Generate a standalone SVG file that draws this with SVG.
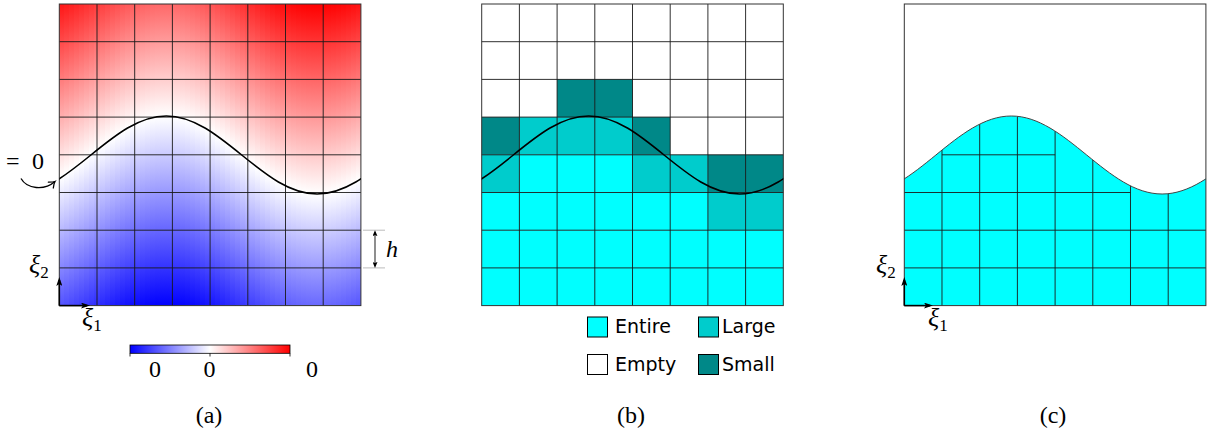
<svg xmlns="http://www.w3.org/2000/svg" width="1208" height="434" viewBox="0 0 1208 434">
<style>
.m{font-family:"Liberation Serif","DejaVu Serif",serif;font-size:24px;fill:#000}
.it{font-style:italic}
.xi{font-size:26px}
.sub{font-size:17px;font-style:normal}
.lg{font-family:"DejaVu Sans","Liberation Sans",sans-serif;font-size:19px;fill:#000}
.grid{fill:none;stroke:#1a1a1a;stroke-width:0.9}
.border{fill:none;stroke:#333;stroke-width:1}
.curve{fill:none;stroke:#000;stroke-width:1.6}
.ccurve{fill:none;stroke:#444;stroke-width:1}
.st{fill:url(#phi);shape-rendering:crispEdges}
.ax{fill:none;stroke:#000;stroke-width:1.6;marker-end:url(#axtip)}
.sw{stroke:#000;stroke-width:1}
.entire{fill:#00ffff}.large{fill:#00cccc}.small{fill:#008888}.empty{fill:#fff}
</style>
<defs>
<linearGradient id="phi" gradientUnits="userSpaceOnUse" x1="0" y1="-190" x2="0" y2="190">
<stop offset="0" stop-color="#ff0000"/><stop offset="0.5" stop-color="#ffffff"/><stop offset="1" stop-color="#0000ff"/>
</linearGradient>
<linearGradient id="cbar" x1="0" y1="0" x2="1" y2="0">
<stop offset="0" stop-color="#0000ff"/><stop offset="0.5" stop-color="#ffffff"/><stop offset="1" stop-color="#ff0000"/>
</linearGradient>
<clipPath id="clipPanel"><rect x="0" y="4" width="301.6" height="301.6"/></clipPath>
<marker id="axtip" viewBox="0 0 9 6" refX="6" refY="3" markerWidth="9" markerHeight="6" markerUnits="userSpaceOnUse" orient="auto"><path d="M0,0 L9,3 L0,6 L2,3Z" fill="#000"/></marker>
<marker id="smtip" viewBox="0 0 6 5" refX="4" refY="2.5" markerWidth="6" markerHeight="5" markerUnits="userSpaceOnUse" orient="auto-start-reverse"><path d="M0,0 L6,2.5 L0,5 L1.2,2.5Z" fill="#000"/></marker>
<marker id="cvtip" viewBox="-7 -5 8 10" refX="0" refY="0" markerWidth="8" markerHeight="10" markerUnits="userSpaceOnUse" orient="auto" overflow="visible"><path d="M-5.5,-3.8 C-3,-1.6 -1,-0.3 0,0 C-1,0.3 -3,1.6 -5.5,3.8" fill="none" stroke="#000" stroke-width="1.3" stroke-linecap="round"/></marker>
<path id="sine" d="M-43.8,194 C-16.51,194 7.01,174.98 31.6,155 C56.19,135.02 79.71,116 107,116 C134.29,116 157.81,135.02 182.4,155 C206.99,174.98 230.51,194 257.8,194 C285.09,194 308.61,174.98 333.2,155"/>
</defs>

<g id="panel-a" transform="translate(59.3,0)">
<g clip-path="url(#clipPanel)">
<rect class="st" x="0" y="-173.12" width="5.3" height="301.6" transform="translate(0,177.12)"/>
<rect class="st" x="5.03" y="-169.64" width="5.3" height="301.6" transform="translate(0,173.64)"/>
<rect class="st" x="10.05" y="-165.96" width="5.3" height="301.6" transform="translate(0,169.96)"/>
<rect class="st" x="15.08" y="-162.11" width="5.3" height="301.6" transform="translate(0,166.11)"/>
<rect class="st" x="20.11" y="-158.14" width="5.3" height="301.6" transform="translate(0,162.14)"/>
<rect class="st" x="25.13" y="-154.09" width="5.3" height="301.6" transform="translate(0,158.09)"/>
<rect class="st" x="30.16" y="-150.01" width="5.3" height="301.6" transform="translate(0,154.01)"/>
<rect class="st" x="35.19" y="-145.94" width="5.3" height="301.6" transform="translate(0,149.94)"/>
<rect class="st" x="40.21" y="-141.93" width="5.3" height="301.6" transform="translate(0,145.93)"/>
<rect class="st" x="45.24" y="-138.01" width="5.3" height="301.6" transform="translate(0,142.01)"/>
<rect class="st" x="50.27" y="-134.24" width="5.3" height="301.6" transform="translate(0,138.24)"/>
<rect class="st" x="55.29" y="-130.65" width="5.3" height="301.6" transform="translate(0,134.65)"/>
<rect class="st" x="60.32" y="-127.28" width="5.3" height="301.6" transform="translate(0,131.28)"/>
<rect class="st" x="65.35" y="-124.18" width="5.3" height="301.6" transform="translate(0,128.18)"/>
<rect class="st" x="70.37" y="-121.37" width="5.3" height="301.6" transform="translate(0,125.37)"/>
<rect class="st" x="75.4" y="-118.88" width="5.3" height="301.6" transform="translate(0,122.88)"/>
<rect class="st" x="80.43" y="-116.74" width="5.3" height="301.6" transform="translate(0,120.74)"/>
<rect class="st" x="85.45" y="-114.98" width="5.3" height="301.6" transform="translate(0,118.98)"/>
<rect class="st" x="90.48" y="-113.61" width="5.3" height="301.6" transform="translate(0,117.61)"/>
<rect class="st" x="95.51" y="-112.66" width="5.3" height="301.6" transform="translate(0,116.66)"/>
<rect class="st" x="100.53" y="-112.12" width="5.3" height="301.6" transform="translate(0,116.12)"/>
<rect class="st" x="105.56" y="-112.01" width="5.3" height="301.6" transform="translate(0,116.01)"/>
<rect class="st" x="110.59" y="-112.33" width="5.3" height="301.6" transform="translate(0,116.33)"/>
<rect class="st" x="115.61" y="-113.07" width="5.3" height="301.6" transform="translate(0,117.07)"/>
<rect class="st" x="120.64" y="-114.23" width="5.3" height="301.6" transform="translate(0,118.23)"/>
<rect class="st" x="125.67" y="-115.78" width="5.3" height="301.6" transform="translate(0,119.78)"/>
<rect class="st" x="130.69" y="-117.73" width="5.3" height="301.6" transform="translate(0,121.73)"/>
<rect class="st" x="135.72" y="-120.04" width="5.3" height="301.6" transform="translate(0,124.04)"/>
<rect class="st" x="140.75" y="-122.69" width="5.3" height="301.6" transform="translate(0,126.69)"/>
<rect class="st" x="145.77" y="-125.65" width="5.3" height="301.6" transform="translate(0,129.65)"/>
<rect class="st" x="150.8" y="-128.88" width="5.3" height="301.6" transform="translate(0,132.88)"/>
<rect class="st" x="155.83" y="-132.36" width="5.3" height="301.6" transform="translate(0,136.36)"/>
<rect class="st" x="160.85" y="-136.04" width="5.3" height="301.6" transform="translate(0,140.04)"/>
<rect class="st" x="165.88" y="-139.89" width="5.3" height="301.6" transform="translate(0,143.89)"/>
<rect class="st" x="170.91" y="-143.86" width="5.3" height="301.6" transform="translate(0,147.86)"/>
<rect class="st" x="175.93" y="-147.91" width="5.3" height="301.6" transform="translate(0,151.91)"/>
<rect class="st" x="180.96" y="-151.99" width="5.3" height="301.6" transform="translate(0,155.99)"/>
<rect class="st" x="185.99" y="-156.06" width="5.3" height="301.6" transform="translate(0,160.06)"/>
<rect class="st" x="191.01" y="-160.07" width="5.3" height="301.6" transform="translate(0,164.07)"/>
<rect class="st" x="196.04" y="-163.99" width="5.3" height="301.6" transform="translate(0,167.99)"/>
<rect class="st" x="201.07" y="-167.76" width="5.3" height="301.6" transform="translate(0,171.76)"/>
<rect class="st" x="206.09" y="-171.35" width="5.3" height="301.6" transform="translate(0,175.35)"/>
<rect class="st" x="211.12" y="-174.72" width="5.3" height="301.6" transform="translate(0,178.72)"/>
<rect class="st" x="216.15" y="-177.82" width="5.3" height="301.6" transform="translate(0,181.82)"/>
<rect class="st" x="221.17" y="-180.63" width="5.3" height="301.6" transform="translate(0,184.63)"/>
<rect class="st" x="226.2" y="-183.12" width="5.3" height="301.6" transform="translate(0,187.12)"/>
<rect class="st" x="231.23" y="-185.26" width="5.3" height="301.6" transform="translate(0,189.26)"/>
<rect class="st" x="236.25" y="-187.02" width="5.3" height="301.6" transform="translate(0,191.02)"/>
<rect class="st" x="241.28" y="-188.39" width="5.3" height="301.6" transform="translate(0,192.39)"/>
<rect class="st" x="246.31" y="-189.34" width="5.3" height="301.6" transform="translate(0,193.34)"/>
<rect class="st" x="251.33" y="-189.88" width="5.3" height="301.6" transform="translate(0,193.88)"/>
<rect class="st" x="256.36" y="-189.99" width="5.3" height="301.6" transform="translate(0,193.99)"/>
<rect class="st" x="261.39" y="-189.67" width="5.3" height="301.6" transform="translate(0,193.67)"/>
<rect class="st" x="266.41" y="-188.93" width="5.3" height="301.6" transform="translate(0,192.93)"/>
<rect class="st" x="271.44" y="-187.77" width="5.3" height="301.6" transform="translate(0,191.77)"/>
<rect class="st" x="276.47" y="-186.22" width="5.3" height="301.6" transform="translate(0,190.22)"/>
<rect class="st" x="281.49" y="-184.27" width="5.3" height="301.6" transform="translate(0,188.27)"/>
<rect class="st" x="286.52" y="-181.96" width="5.3" height="301.6" transform="translate(0,185.96)"/>
<rect class="st" x="291.55" y="-179.31" width="5.3" height="301.6" transform="translate(0,183.31)"/>
<rect class="st" x="296.57" y="-176.35" width="5.3" height="301.6" transform="translate(0,180.35)"/>
</g>
<path class="grid" d="M37.7,4V305.6M75.4,4V305.6M113.1,4V305.6M150.8,4V305.6M188.5,4V305.6M226.2,4V305.6M263.9,4V305.6M0,41.7H301.6M0,79.4H301.6M0,117.1H301.6M0,154.8H301.6M0,192.5H301.6M0,230.2H301.6M0,267.9H301.6"/>
<rect class="border" x="0" y="4" width="301.6" height="301.6"/>
<g clip-path="url(#clipPanel)"><use href="#sine" class="curve"/></g>
</g>

<g id="panel-b" transform="translate(481.7,0)">
<rect class="empty" x="0" y="4" width="301.6" height="301.6"/>
<rect class="small" x="75.4" y="79.4" width="75.4" height="37.7"/>
<rect class="small" x="0" y="117.1" width="37.7" height="37.7"/>
<rect class="small" x="150.8" y="117.1" width="37.7" height="37.7"/>
<rect class="small" x="226.2" y="154.8" width="75.4" height="37.7"/>
<rect class="large" x="37.7" y="117.1" width="113.1" height="37.7"/>
<rect class="large" x="0" y="154.8" width="37.7" height="37.7"/>
<rect class="large" x="150.8" y="154.8" width="75.4" height="37.7"/>
<rect class="large" x="226.2" y="192.5" width="75.4" height="37.7"/>
<rect class="entire" x="37.7" y="154.8" width="113.1" height="37.7"/>
<rect class="entire" x="0" y="192.5" width="226.2" height="37.7"/>
<rect class="entire" x="0" y="230.2" width="301.6" height="75.4"/>
<path class="grid" d="M37.7,4V305.6M75.4,4V305.6M113.1,4V305.6M150.8,4V305.6M188.5,4V305.6M226.2,4V305.6M263.9,4V305.6M0,41.7H301.6M0,79.4H301.6M0,117.1H301.6M0,154.8H301.6M0,192.5H301.6M0,230.2H301.6M0,267.9H301.6"/>
<rect class="border" x="0" y="4" width="301.6" height="301.6"/>
<g clip-path="url(#clipPanel)"><use href="#sine" class="curve"/></g>
</g>

<g id="panel-c" transform="translate(904.3,0)">
<rect class="empty" x="0" y="4" width="301.6" height="301.6"/>
<path class="entire" clip-path="url(#clipPanel)" d="M-43.8,194 C-16.51,194 7.01,174.98 31.6,155 C56.19,135.02 79.71,116 107,116 C134.29,116 157.81,135.02 182.4,155 C206.99,174.98 230.51,194 257.8,194 C285.09,194 308.61,174.98 333.2,155 L333.2,305.6 L-43.8,305.6 Z"/>
<path class="grid" d="M37.7,150.05V305.6M75.4,124.15V305.6M113.1,116.3V305.6M150.8,131.14V305.6M188.5,159.94V305.6M226.2,185.88V305.6M263.9,193.67V305.6M37.7,154.8H150.8M0,192.5H226.2M0,230.2H301.6M0,267.9H301.6"/>
<g clip-path="url(#clipPanel)"><use href="#sine" class="ccurve"/></g>
<rect class="border" x="0" y="4" width="301.6" height="301.6"/>
</g>

<g id="connectors">
<path class="ax" d="M59.3,305.6V280"/>
<path class="ax" d="M59.3,305.6H87"/>
<path class="ax" d="M904.3,305.6V280"/>
<path class="ax" d="M904.3,305.6H930"/>
<path d="M21,178.5 C27,189 44,191 55,181.5" fill="none" stroke="#000" stroke-width="1.3" marker-end="url(#cvtip)"/>
<path d="M363,230.2H385M363,267.9H385" stroke="#aaa" stroke-width="0.8" fill="none"/>
<path d="M375,232.2V265.9" stroke="#444" stroke-width="1.2" fill="none" marker-start="url(#smtip)" marker-end="url(#smtip)"/>
</g>

<g id="labels-a">
<text class="m" x="6 20 32" y="169">= 0</text>
<text class="m it" x="386" y="257">h</text>
<text class="m it xi" x="29" y="272.5">ξ<tspan class="sub" dy="5">2</tspan></text>
<text class="m it xi" x="82" y="326">ξ<tspan class="sub" dy="5">1</tspan></text>
</g>

<g id="labels-c">
<text class="m it xi" x="876" y="272.5">ξ<tspan class="sub" dy="5">2</tspan></text>
<text class="m it xi" x="928" y="326">ξ<tspan class="sub" dy="5">1</tspan></text>
</g>

<g id="colorbar">
<rect x="130" y="345" width="160" height="8.3" fill="url(#cbar)" stroke="#000" stroke-width="0.8"/>
<path d="M130,353.3V356.5M210,353.3V356.5M290,353.3V356.5" stroke="#000" stroke-width="0.8"/>
<text class="m" x="155" y="376.5" text-anchor="middle">0</text>
<text class="m" x="209.5" y="376.5" text-anchor="middle">0</text>
<text class="m" x="312" y="376.5" text-anchor="middle">0</text>
</g>

<g id="legend">
<rect class="sw entire" x="587.5" y="317" width="20" height="20"/>
<text class="lg" x="615" y="333.3">Entire</text>
<rect class="sw large" x="698.5" y="317" width="20" height="20"/>
<text class="lg" x="722" y="333.3">Large</text>
<rect class="sw empty" x="587.5" y="354.5" width="20" height="20"/>
<text class="lg" x="615" y="370.5">Empty</text>
<rect class="sw small" x="698.5" y="354.5" width="20" height="20"/>
<text class="lg" x="722" y="370.5">Small</text>
</g>

<g id="captions">
<text class="m" x="209" y="423" text-anchor="middle">(a)</text>
<text class="m" x="631" y="423" text-anchor="middle">(b)</text>
<text class="m" x="1053" y="423" text-anchor="middle">(c)</text>
</g>
</svg>
